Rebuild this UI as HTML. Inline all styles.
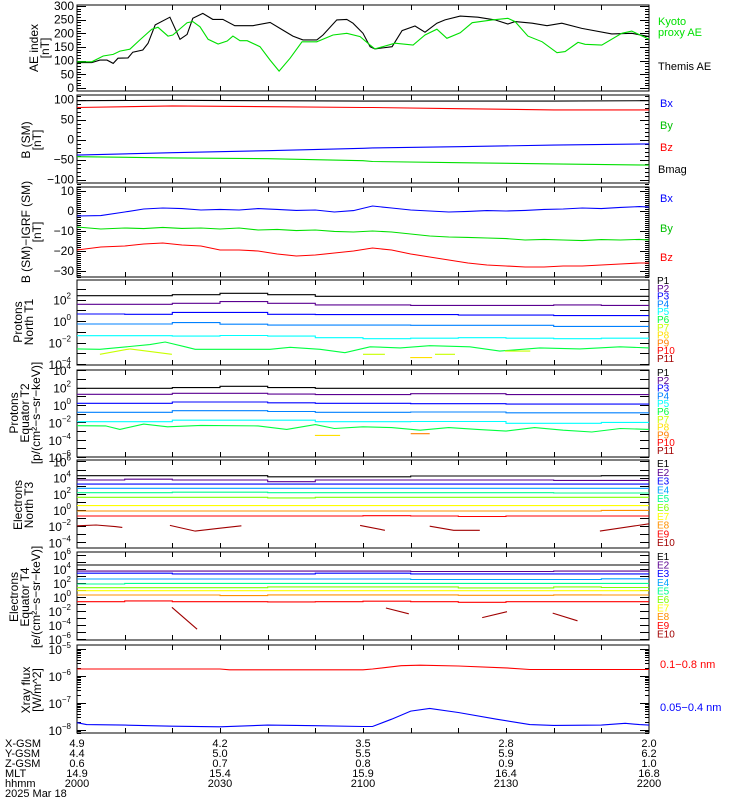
<!DOCTYPE html>
<html><head><meta charset="utf-8"><title>THEMIS summary plot</title>
<style>
html,body{margin:0;padding:0;background:#fff;}
svg{display:block;font-family:"Liberation Sans",sans-serif;}
</style></head>
<body>
<svg id="chart" width="750" height="800" viewBox="0 0 750 800" xmlns="http://www.w3.org/2000/svg"></svg>
<script>
// ---------- data ----------
const timeTicks = [0,30,60,90,120];
const hhmmLabels = ["2000","2030","2100","2130","2200"];
const xgsmLabels = ["4.9","4.2","3.5","2.8","2.0"];
const ygsmLabels = ["4.4","5.0","5.5","5.9","6.2"];
const zgsmLabels = ["0.6","0.7","0.8","0.9","1.0"];
const mltLabels = ["14.9","15.4","15.9","16.4","16.8"];

// AE panel
const themisT = [0,3.1,4.8,6.3,7.6,8.6,10.7,11.7,13.8,14.9,16.4,19.5,21.6,23.1,24.3,26.4,28.5,30.6,33.1,36.9,40.5,43.2,45.3,47.4,50.3,51.6,54.5,56.6,57.9,60,61.5,62.5,66.1,68.2,70.9,73,75.5,77.2,80.4,84.1,87.7,90.4,91.9,95.5,98.6,101.7,105.9,112.2,116.4,120];
const themisAE = [93,93,102,102,90,109,110,131,139,163,231,259,178,196,255,273,251,251,228,228,240,212,190,176,176,194,249,251,237,200,151,143,151,210,227,204,237,249,263,259,249,234,243,237,228,237,218,198,200,188];
const kyotoT = [0,3.1,5.5,7.6,9,11.1,13.2,15.7,17,19.1,20.1,23.1,24.3,25.8,27.5,29.6,31.5,32.7,34.2,35.7,38.4,40.5,42.4,44.7,47.2,50.3,53.7,56.6,59.4,61.5,62.5,66.7,70.5,73,75.5,77.6,80.4,82.9,87.1,90.4,91.9,94.6,97.6,100.7,102.4,105.1,106.6,110.1,114.3,116.4,120];
const kyotoAE = [96,96,117,123,135,142,176,215,222,190,194,239,243,224,178,161,172,190,173,173,151,102,62,109,169,169,194,200,188,157,143,164,157,194,215,182,202,239,249,255,243,190,169,129,133,167,160,157,200,208,178];

// B (SM) panel
const bT = [0,20,40,60,62,80,100,120];
const bxSM = [-39,-33,-28,-22,-21,-18,-14,-11];
const bySM = [-43,-46,-48,-53,-55,-58,-61,-64];
const bzSM = [80,84,82,80,80,77,74,74];
const bmagSM = [97,98,97,96,96,96,96,97];

// B-IGRF panel
const dbT = [0,5,10,14,18,22,26,30,34,38,42,46,50,54,58,62,66,70,74,78,82,86,90,94,98,102,106,110,114,118,120];
const dbx = [-2.5,-2.3,-0.5,1,1.5,1.2,0.5,0.8,0.5,1.2,0.8,0.3,0.5,-0.5,0.2,2.5,1.5,0.5,0,-0.5,-0.2,0.2,0,0.3,0.8,1,1.5,1.2,1.8,2.2,2];
const dby = [-8,-9,-8.5,-8.8,-8.2,-8.7,-8.5,-9,-8.5,-9.5,-9.2,-9.8,-9.5,-10.2,-10.5,-10,-10.5,-11.5,-12.5,-13,-13.2,-13.5,-13.8,-14.5,-14.2,-14.5,-14.8,-14.3,-14.5,-14.2,-14.5];
const dbz = [-19.5,-18,-17.5,-16.5,-16,-17,-17.5,-19.5,-19.5,-20,-21.5,-22.5,-22,-21,-20,-18.5,-19.5,-21.5,-23,-24.5,-26,-27,-27.5,-28,-28,-27.5,-27.5,-27,-26.5,-26,-26];

// flux step grid (10-minute intervals), values are log10
const stepEdges = [0,10,20,30,40,50,60,70,80,90,100,110,120];
const p4P1 = [2.35,2.35,2.45,2.58,2.45,2.3,2.3,2.3,2.3,2.3,2.3,2.3];
const p4P2 = [1.55,1.55,1.65,1.8,1.65,1.5,1.5,1.45,1.45,1.45,1.5,1.45];
const p4P3 = [0.65,0.62,0.8,0.8,0.62,0.6,0.6,0.6,0.55,0.55,0.5,0.5];
const p4P4 = [-0.28,-0.28,-0.15,-0.3,-0.38,-0.38,-0.38,-0.4,-0.4,-0.4,-0.5,-0.5];
const p4P5 = [-1.37,-1.37,-1.4,-1.35,-1.4,-1.55,-1.65,-1.6,-1.55,-1.6,-1.65,-1.6];
const p4P6T = [0,4.8,15.3,18.5,22.7,24.8,40.5,44.7,51,56.2,61.5,67.8,74,82.4,88.7,97.1,105.5,113.9,120];
const p4P6 = [-2.6,-2.63,-2.2,-1.95,-2.4,-2.63,-2.63,-2.45,-2.63,-2.95,-2.4,-2.5,-2.3,-2.4,-2.8,-2.5,-2.6,-2.4,-2.5];
const p4P7SegT = [[4.8,11.1],[11.1,19.9],[60,64.6],[75.1,79.3],[89.8,95.1]];
const p4P7SegV = [[-3.1,-2.6],[-2.6,-3.1],[-3.1,-3.1],[-3.1,-3.1],[-2.8,-2.8]];
const p4P8SegT = [[69.9,74.5]];
const p4P8SegV = [[-3.4,-3.4]];

const p5P1 = [1.92,1.92,2.0,2.15,2.0,1.92,1.92,1.92,1.92,1.92,1.92,1.92];
const p5P2 = [1.23,1.23,1.35,1.35,1.25,1.2,1.2,1.3,1.3,1.2,1.2,1.2];
const p5P3 = [0.2,0.2,0.35,0.35,0.25,0.2,0.2,0.15,0.15,0.1,0.1,0.1];
const p5P4 = [-0.84,-0.84,-0.65,-0.65,-0.75,-0.84,-0.84,-0.8,-0.8,-0.9,-0.9,-0.9];
const p5P5 = [-1.92,-1.92,-1.75,-1.75,-1.75,-1.92,-1.92,-1.9,-1.9,-2.1,-2.1,-2.0];
const p5P6T = [0,6,9,14,19,26,38,44,50,54,60,66,72,78,84,90,96,102,108,114,120];
const p5P6 = [-2.38,-2.4,-2.8,-2.2,-2.5,-2.35,-2.4,-2.8,-2.25,-2.7,-2.5,-2.6,-2.9,-2.6,-2.8,-3.0,-2.6,-2.9,-3.1,-2.7,-2.8];
const p5P8SegT = [[49.9,55.2]];
const p5P8SegV = [[-3.5,-3.5]];
const p5P9SegT = [[70,74]];
const p5P9SegV = [[-3.3,-3.3]];

const e6E1 = [4.24,4.24,4.24,4.24,4.1,4.1,4.1,4.2,4.2,4.2,4.2,4.24];
const e6E2 = [3.7,3.8,3.7,3.7,3.5,3.7,3.7,3.7,3.7,3.7,3.65,3.65];
const e6E3 = [3.2,3.2,3.2,3.2,3.2,3.2,3.2,3.2,3.2,3.2,3.2,3.2];
const e6E4 = [2.68,2.68,2.68,2.68,2.68,2.68,2.68,2.68,2.68,2.68,2.68,2.68];
const e6E5 = [2.14,2.14,2.2,2.2,2.14,2.14,2.14,2.14,2.14,2.14,2.1,2.1];
const e6E6 = [1.57,1.57,1.57,1.57,1.5,1.57,1.57,1.57,1.57,1.57,1.57,1.57];
const e6E7 = [0.54,0.54,0.54,0.54,0.54,0.54,0.54,0.54,0.54,0.54,0.54,0.54];
const e6E8 = [-0.12,-0.12,-0.12,-0.12,-0.12,-0.12,-0.12,-0.12,-0.12,-0.12,-0.12,-0.05];
const e6E9 = [-0.74,-0.74,-0.74,-0.74,-0.74,-0.74,-0.7,-0.74,-0.8,-0.74,-0.74,-0.74];
const e6E10SegT = [[0,4,8,9.5],[19.5,24.8,30,34.5],[59.4,64.6],[74,79,84.5],[109.7,120]];
const e6E10SegV = [[-1.95,-1.85,-2.05,-2.15],[-1.9,-2.6,-2.25,-1.95],[-1.9,-2.5],[-2.0,-2.5,-2.5],[-2.6,-1.7]];

const e7E1 = [4.57,4.57,4.57,4.57,4.57,4.57,4.57,4.57,4.57,4.57,4.57,4.57];
const e7E2 = [3.7,3.7,3.7,3.7,3.7,3.7,3.7,3.65,3.65,3.65,3.7,3.7];
const e7E3 = [3.4,3.4,3.3,3.3,3.3,3.4,3.4,3.3,3.3,3.3,3.3,3.3];
const e7E4 = [2.57,2.57,2.57,2.57,2.57,2.57,2.57,2.5,2.5,2.5,2.5,2.6];
const e7E5 = [1.85,1.95,1.95,1.95,1.95,1.95,1.95,1.95,1.95,1.95,1.95,1.95];
const e7E6 = [1.33,1.33,1.33,1.33,1.45,1.45,1.45,1.45,1.3,1.3,1.45,1.35];
const e7E7 = [0.9,0.9,0.9,0.9,0.9,0.9,0.9,0.9,0.9,0.9,0.9,0.9];
const e7E8 = [0.28,0.28,0.28,0.2,0.3,0.3,0.3,0.3,0.25,0.25,0.3,0.28];
const e7E9 = [-0.67,-0.55,-0.67,-0.67,-0.7,-0.67,-0.6,-0.67,-0.75,-0.67,-0.67,-0.67];
const e7E10SegT = [[19.9,25.2],[64.8,69.6],[85,90.2],[99.8,105]];
const e7E10SegV = [[-1.47,-4.6],[-1.57,-2.4],[-2.95,-2.1],[-2.3,-3.4]];

// X-ray (log10 W/m^2)
const xrLongT = [0,30,32,60,62,68,72,80,90,95,120];
const xrLong = [-5.74,-5.74,-5.77,-5.77,-5.74,-5.62,-5.6,-5.63,-5.7,-5.76,-5.76];
const xrShortT = [0,2,10,20,30,40,50,60,62,66,70,74,80,88,95,100,110,115,118,120];
const xrShort = [-7.73,-7.8,-7.82,-7.86,-7.88,-7.82,-7.84,-7.87,-7.87,-7.6,-7.3,-7.2,-7.35,-7.6,-7.8,-7.83,-7.82,-7.75,-7.8,-7.82];

// ---------- drawing ----------
const NS = "http://www.w3.org/2000/svg";
const svg = document.getElementById("chart");
const X0 = 77, X1 = 649;
function xOf(t){ return X0 + t/120*(X1-X0); }
function scale(y0,v0,y1,v1){ return v => y0 + (v-v0)*(y1-y0)/(v1-v0); }
function el(tag, attrs, parent){
  const e = document.createElementNS(NS, tag);
  for (const k in attrs) e.setAttribute(k, attrs[k]);
  (parent||svg).appendChild(e);
  return e;
}
function text(x,y,str,color,size,anchor,name,parent){
  const t = el("text",{x:x,y:y,fill:color,"font-size":size,"text-anchor":anchor||"start"},parent);
  t.textContent = str;
  
  
  return t;
}
function line(ts, vs, ys, color, name){
  const pts = ts.map((t,i)=> xOf(t).toFixed(1)+","+ys(vs[i]).toFixed(1)).join(" ");
  const p = el("polyline",{points:pts,fill:"none",stroke:color,"stroke-width":1.1});
  
  
  return p;
}
function stepLine(vs, ys, color, name){
  let pts = [];
  for (let i=0;i<vs.length;i++){
    pts.push(xOf(stepEdges[i]).toFixed(1)+","+ys(vs[i]).toFixed(1));
    pts.push(xOf(stepEdges[i+1]).toFixed(1)+","+ys(vs[i]).toFixed(1));
  }
  const p = el("polyline",{points:pts.join(" "),fill:"none",stroke:color,"stroke-width":1.1});
  
  
  return p;
}
function segs(tsArr, vsArr, ys, color, name){
  tsArr.forEach((ts,i)=> line(ts, vsArr[i], ys, color, name));
}
function frame(top,bottom,name){
  const g = el("g",{"shape-rendering":"crispEdges"});
  
  
  el("rect",{x:X0,y:top,width:X1-X0,height:bottom-top,fill:"none",stroke:"#000","stroke-width":1.3},g);
  for (let t=10;t<120;t+=10){
    const x = Math.round(xOf(t))+0.5;
    el("line",{x1:x,y1:top,x2:x,y2:top+5,stroke:"#000"},g);
    el("line",{x1:x,y1:bottom,x2:x,y2:bottom-5,stroke:"#000"},g);
  }
  return g;
}
function yTick(g,y,len){
  const yy = Math.round(y)+0.5;
  el("line",{x1:X0,y1:yy,x2:X0+len,y2:yy,stroke:"#000","stroke-width":1},g);
  el("line",{x1:X1,y1:yy,x2:X1-len,y2:yy,stroke:"#000","stroke-width":1},g);
}
function linTicks(g,ys,vmin,vmax,major,minor,top,bottom){
  for (let v=vmin; v<=vmax+1e-9; v+=minor){
    const y = ys(v); if (y<top-0.5||y>bottom+0.5) continue;
    const isMaj = Math.abs(v/major - Math.round(v/major))<1e-6;
    yTick(g,y,isMaj?9:4);
    if (isMaj){ text(74,y+4,String(Math.round(v)).replace("-","\u2212"),"#000",12,"end","y-tick-label",g); }
  }
}
function logLabel(g,y,e){
  const t = el("text",{x:71,y:y+5,"font-size":12,"text-anchor":"end",fill:"#000"},g);
  
  
  t.appendChild(document.createTextNode("10"));
  const s = el("tspan",{dy:-6,"font-size":8},t);
  s.textContent = String(e).replace("-","\u2212");
}
function logTicks(g,ys,emin,emax,labelStep,minorDec,top,bottom){
  for (let e=emin;e<=emax;e++){
    const y = ys(e);
    if (y>=top-0.5 && y<=bottom+0.5){
      yTick(g,y,9);
      if ((e - emin) % labelStep === 0 || labelStep===1) logLabel(g,y,e);
    }
    if (minorDec){
      for (let m=2;m<10;m++){
        const ym = ys(e+Math.log10(m));
        if (ym>=top && ym<=bottom) yTick(g,ym,4);
      }
    }
  }
}
function yTitle(lines,cx,cy,name){
  const g = el("g",{});
  
  
  lines.forEach((s,i)=>{
    const x = cx + i*11;
    text(x,cy,s,"#000",12,"middle","y-axis-title-line",g).setAttribute("transform","rotate(-90 "+x+" "+cy+")");
  });
}

// Panel 1: AE
const y1 = scale(88,0,6,300);
let g = frame(5,91,"ae-panel");
linTicks(g,y1,0,300,50,10,5,91);
line(themisT,themisAE,y1,"#000","themis-ae-line");
line(kyotoT,kyotoAE,y1,"#00e000","kyoto-ae-line");
yTitle(["AE index","[nT]"],38,48,"ae-y-title");
text(658,25,"Kyoto","#00e000",11,"start","legend-kyoto");
text(658,36,"proxy AE","#00e000",11,"start","legend-kyoto");
text(658,70,"Themis AE","#000",11,"start","legend-themis-ae");

// Panel 2: B SM
const y2 = scale(139.5,0,99.5,100);
g = frame(95,183,"b-sm-panel");
linTicks(g,y2,-110,110,50,10,95,183);
line(bT,bmagSM,y2,"#000","bmag-line");
line(bT,bzSM,y2,"#ff0000","bz-line");
line(bT,bxSM,y2,"#0000ff","bx-line");
line(bT,bySM,y2,"#00e000","by-line");
yTitle(["B (SM)","[nT]"],30,140,"b-sm-y-title");
text(660,107,"Bx","#0000ff",11,"start","legend-bx");
text(660,129,"By","#00c000",11,"start","legend-by");
text(660,151,"Bz","#ff0000",11,"start","legend-bz");
text(658,173,"Bmag","#000",11,"start","legend-bmag");

// Panel 3: B - IGRF
const y3 = scale(211,0,191,10);
g = frame(187,277,"b-igrf-panel");
linTicks(g,y3,-33,13,10,1,187,277);
line(dbT,dbx,y3,"#0000ff","dbx-line");
line(dbT,dby,y3,"#00e000","dby-line");
line(dbT,dbz,y3,"#ff0000","dbz-line");
yTitle(["B (SM)\u2212IGRF (SM)","[nT]"],30,232,"b-igrf-y-title");
text(660,202,"Bx","#0000ff",11,"start","legend-dbx");
text(660,232,"By","#00c000",11,"start","legend-dby");
text(660,261,"Bz","#ff0000",11,"start","legend-dbz");

const pColors = ["#000000","#5a0090","#0000ff","#0080ff","#00ffff","#00ff40","#c8ff00","#ffe000","#ff8000","#ff0000","#a00000"];
const eColors = ["#000000","#5a0090","#0000ff","#00a0ff","#00ff90","#80ff00","#ffff00","#ff9000","#ff0000","#a00000"];
function channelLegend(prefix,colors,y0,dy,name){
  colors.forEach((c,i)=> text(657,y0+i*dy,prefix+(i+1),c,10,"start",name));
}

// Panel 4: Protons North T1
const y4 = scale(321,0,299.5,2);
g = frame(280,365,"protons-north-panel");
logTicks(g,y4,-4,4,2,false,280,365);
[p4P1,p4P2,p4P3,p4P4,p4P5].forEach((v,i)=> stepLine(v,y4,pColors[i],"proton-north-p"+(i+1)));
line(p4P6T,p4P6,y4,pColors[5],"proton-north-p6");
segs(p4P7SegT,p4P7SegV,y4,pColors[6],"proton-north-p7");
segs(p4P8SegT,p4P8SegV,y4,pColors[7],"proton-north-p8");
yTitle(["Protons","North T1"],22,322,"protons-north-y-title");
channelLegend("P",pColors,284,7.8,"legend-proton-north");

// Panel 5: Protons Equator T2
const y5 = scale(405,0,387.6,2);
g = frame(370,457,"protons-equator-panel");
logTicks(g,y5,-6,4,2,false,370,457);
[p5P1,p5P2,p5P3,p5P4,p5P5].forEach((v,i)=> stepLine(v,y5,pColors[i],"proton-equator-p"+(i+1)));
line(p5P6T,p5P6,y5,pColors[5],"proton-equator-p6");
segs(p5P8SegT,p5P8SegV,y5,pColors[7],"proton-equator-p8");
segs(p5P9SegT,p5P9SegV,y5,pColors[8],"proton-equator-p9");
yTitle(["Protons","Equator T2","[p/(cm\u00b2\u2212s\u2212sr\u2212keV)]"],18,413,"protons-equator-y-title");
channelLegend("P",pColors,376,7.8,"legend-proton-equator");

// Panel 6: Electrons North T3
const y6 = scale(510,0,493.8,2);
g = frame(460,548,"electrons-north-panel");
logTicks(g,y6,-4,6,2,false,460,548);
[e6E1,e6E2,e6E3,e6E4,e6E5,e6E6,e6E7,e6E8,e6E9].forEach((v,i)=> stepLine(v,y6,eColors[i],"electron-north-e"+(i+1)));
segs(e6E10SegT,e6E10SegV,y6,eColors[9],"electron-north-e10");
yTitle(["Electrons","North T3"],22,505,"electrons-north-y-title");
channelLegend("E",eColors,467,8.8,"legend-electron-north");

// Panel 7: Electrons Equator T4
const y7 = scale(597,0,583,2);
g = frame(552,640,"electrons-equator-panel");
logTicks(g,y7,-6,6,2,false,552,640);
[e7E1,e7E2,e7E3,e7E4,e7E5,e7E6,e7E7,e7E8,e7E9].forEach((v,i)=> stepLine(v,y7,eColors[i],"electron-equator-e"+(i+1)));
segs(e7E10SegT,e7E10SegV,y7,eColors[9],"electron-equator-e10");
yTitle(["Electrons","Equator T4","[e/(cm\u00b2\u2212s\u2212sr\u2212keV)]"],18,597,"electrons-equator-y-title");
channelLegend("E",eColors,560,8.6,"legend-electron-equator");

// Panel 8: X-ray
const y8 = scale(649,-5,676,-6);
g = frame(645,733,"xray-panel");
logTicks(g,y8,-9,-5,1,true,645,733);
line(xrLongT,xrLong,y8,"#ff0000","xray-long-line");
line(xrShortT,xrShort,y8,"#0000ff","xray-short-line");
yTitle(["Xray flux","[W/m^2]"],30,690,"xray-y-title");
text(660,668,"0.1\u22120.8 nm","#ff0000",11,"start","legend-xray-long");
text(660,711,"0.05\u22120.4 nm","#0000ff",11,"start","legend-xray-short");

// Bottom ephemeris labels
const rowNames = ["X-GSM","Y-GSM","Z-GSM","MLT","hhmm"];
const rowVals = [xgsmLabels,ygsmLabels,zgsmLabels,mltLabels,hhmmLabels];
rowNames.forEach((n,r)=>{
  const y = 747 + r*10;
  text(5,y,n,"#000",11,"start","ephemeris-row-label");
  timeTicks.forEach((t,i)=> text(xOf(t),y,rowVals[r][i],"#000",11,"middle","ephemeris-value"));
});
text(5,797,"2025 Mar 18","#000",11,"start","date-label");
</script>
</body></html>
